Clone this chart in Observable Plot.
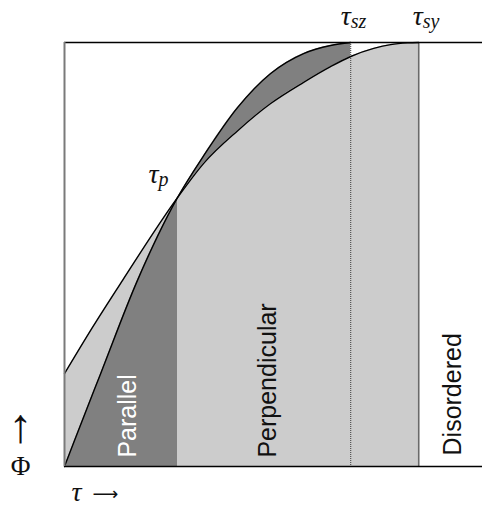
<!DOCTYPE html>
<html>
<head>
<meta charset="utf-8">
<script src="https://cdn.jsdelivr.net/npm/d3@7"></script>
<script src="https://cdn.jsdelivr.net/npm/@observablehq/plot@0.6"></script>
<style>
  html, body { margin: 0; padding: 0; background: #fff; }
</style>
</head>
<body>
<div id="chart"></div>
<script>
// Boundary of the parallel phase (Φ as a function of τ)
const tauA = [0, 0.028, 0.102, 0.206, 0.319, 0.393, 0.489, 0.582, 0.675, 0.751, 0.808];
const phiA = [0, 0.061, 0.219, 0.439, 0.634, 0.733, 0.847, 0.927, 0.974, 0.993, 1.0];

// Boundary of the perpendicular phase
const tauB = [0, 0.079, 0.164, 0.319, 0.393, 0.489, 0.582, 0.675, 0.751, 0.808, 0.873, 0.921, 0.969, 1.0];
const phiB = [0.219, 0.328, 0.439, 0.634, 0.715, 0.792, 0.856, 0.906, 0.943, 0.967, 0.986, 0.995, 0.999, 1.0];

// Transition points on the τ axis
const tauP = 0.319;
const tauSZ = 0.808;
const tauSY = 1.0;
const tauMax = 1.18;

const phases = ["Parallel", "Perpendicular", "Disordered"];
const transitionSubs = ["p", "sz", "sy"];

const curveA = tauA.map((t, i) => ({tau: t, phi: phiA[i]}));
const curveB = tauB.map((t, i) => ({tau: t, phi: phiB[i]}));
const curveBRight = curveB.filter(d => d.tau >= tauP);
const phiAtP = curveA.find(d => d.tau === tauP).phi;

const dark = "#808080";
const light = "#cccccc";
const curve = "monotone-x";
const sans = "'Liberation Sans', Arial, Helvetica, sans-serif";
const serif = "'Liberation Serif', 'Times New Roman', serif";
const ink = "#111";

// τ with an italic subscript, placed relative to a point of the diagram
function tauLabel(tau, phi, sub, dx, dy) {
  return [
    Plot.text([tau], {x: d => d, y: phi, text: () => "τ", dx, dy, textAnchor: "end", lineAnchor: "middle",
      fontSize: 28, fontFamily: serif, fontStyle: "italic", fill: ink}),
    Plot.text([tau], {x: d => d, y: phi, text: () => sub, dx, dy: dy + 5.5, textAnchor: "start", lineAnchor: "middle",
      fontSize: 20, fontFamily: serif, fontStyle: "italic", fill: ink})
  ];
}

const chart = Plot.plot({
  width: 482,
  height: 506,
  marginLeft: 64,
  marginRight: 0,
  marginTop: 42,
  marginBottom: 40,
  x: {domain: [0, tauMax], axis: null},
  y: {domain: [0, 1], axis: null},
  style: {background: "#fff", overflow: "visible"},
  marks: [
    // shaded phase regions
    Plot.areaY(curveB, {x: "tau", y: "phi", fill: light, curve}),
    Plot.areaY(curveA, {x: "tau", y: "phi", fill: dark, curve}),
    Plot.areaY(curveBRight, {x: "tau", y: "phi", fill: light, curve}),

    // transition lines
    Plot.ruleX([tauSZ], {stroke: "#3a3a3a", strokeWidth: 1, strokeDasharray: "1,1"}),
    Plot.ruleX([tauSY], {stroke: "#6a6a6a", strokeWidth: 1.6}),

    // phase boundaries
    Plot.line(curveA, {x: "tau", y: "phi", stroke: "#000", strokeWidth: 1.4, curve}),
    Plot.line(curveB, {x: "tau", y: "phi", stroke: "#000", strokeWidth: 1.4, curve}),

    // frame
    Plot.ruleY([0, 1], {stroke: "#000", strokeWidth: 1.5}),
    Plot.ruleX([0], {stroke: "#7a7a7a", strokeWidth: 2}),

    // phase names
    Plot.text([phases[0]], {x: 0.178, y: 0.021, text: d => d, rotate: -90, textAnchor: "start", lineAnchor: "middle",
      fontSize: 25, fontFamily: sans, fill: "#fff"}),
    Plot.text([phases[1]], {x: 0.575, y: 0.021, text: d => d, rotate: -90, textAnchor: "start", lineAnchor: "middle",
      fontSize: 25, fontFamily: sans, fill: ink}),
    Plot.text([phases[2]], {x: 1.096, y: 0.026, text: d => d, rotate: -90, textAnchor: "start", lineAnchor: "middle",
      fontSize: 25, fontFamily: sans, fill: ink}),

    // transition labels τ_p, τ_sz, τ_sy
    ...tauLabel(tauP, phiAtP, transitionSubs[0], -19, -24),
    ...tauLabel(tauSZ, 1, transitionSubs[1], 0, -26),
    ...tauLabel(tauSY, 1, transitionSubs[2], 4, -26),

    // axis hints
    Plot.text(["↑"], {frameAnchor: "bottom-left", dx: -44, dy: -40, text: d => d, textAnchor: "middle", lineAnchor: "middle",
      fontSize: 48, fontFamily: serif, fill: ink}),
    Plot.text(["Φ"], {frameAnchor: "bottom-left", dx: -44, dy: 0, text: d => d, textAnchor: "middle", lineAnchor: "middle",
      fontSize: 27, fontFamily: serif, fill: ink}),
    Plot.text(["τ"], {frameAnchor: "bottom-left", dx: 7, dy: 26, text: d => d, textAnchor: "start", lineAnchor: "middle",
      fontSize: 28, fontFamily: serif, fontStyle: "italic", fill: ink}),
    Plot.text(["⟶"], {frameAnchor: "bottom-left", dx: 28, dy: 28, text: d => d, textAnchor: "start", lineAnchor: "middle",
      fontSize: 18, fontFamily: "'DejaVu Sans'", fill: ink})
  ]
});

document.getElementById("chart").appendChild(chart);
</script>
</body>
</html>
